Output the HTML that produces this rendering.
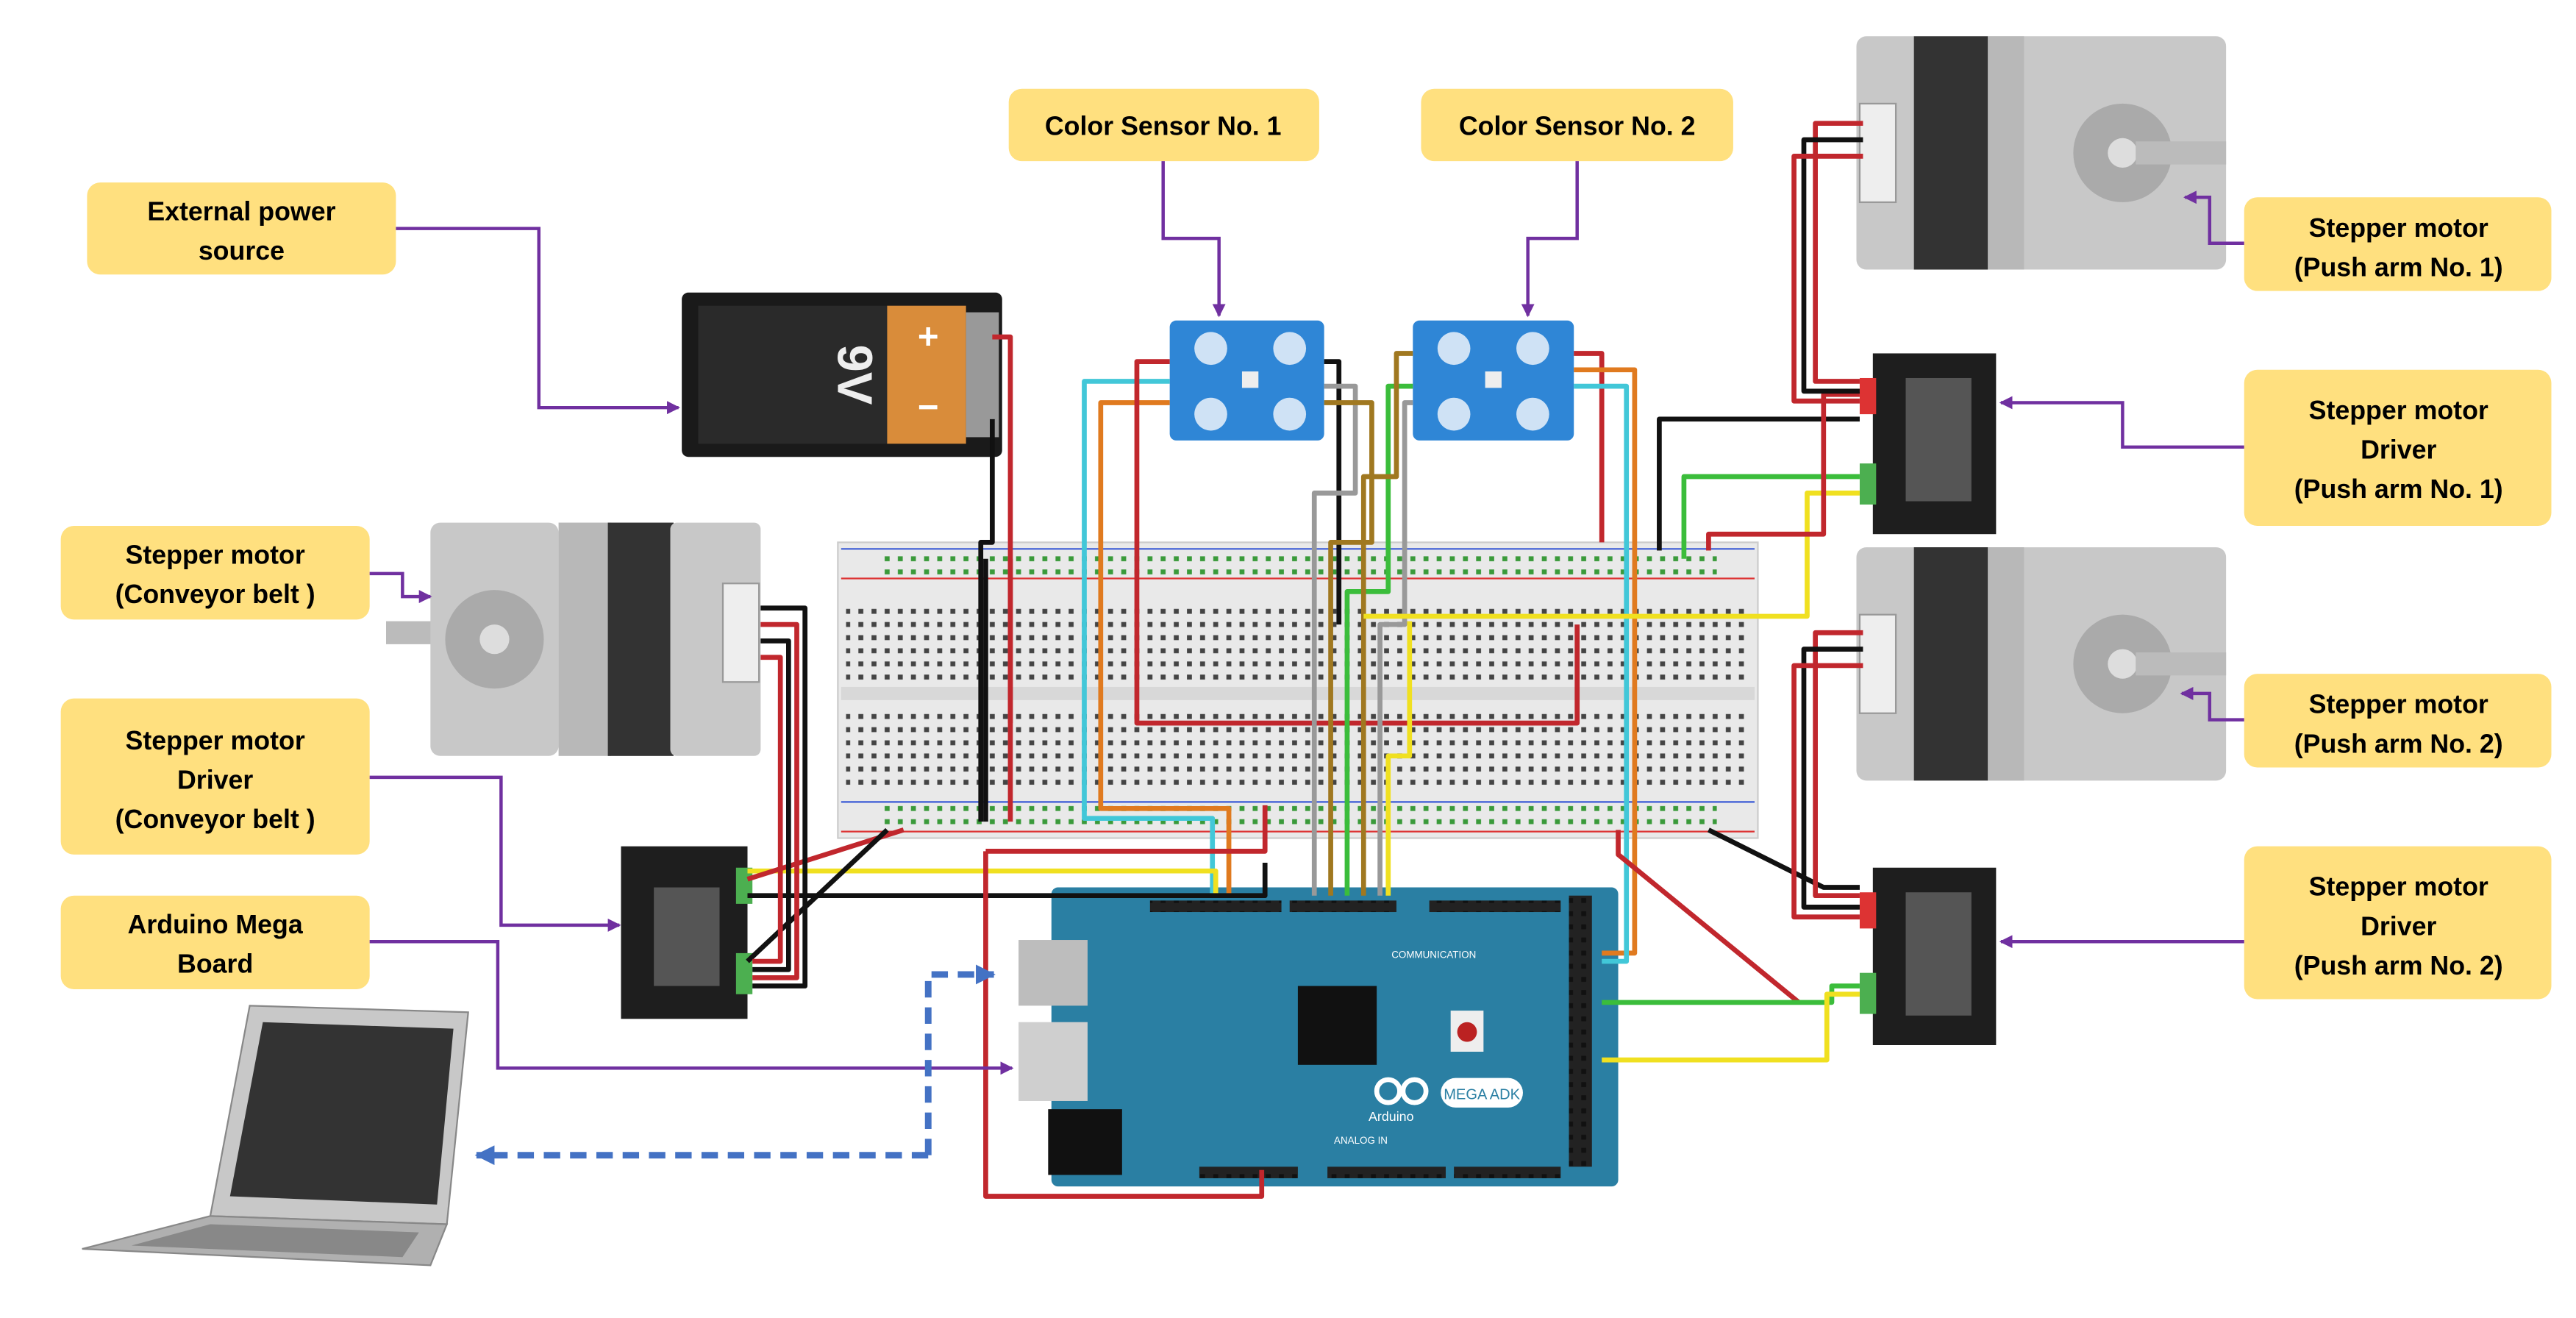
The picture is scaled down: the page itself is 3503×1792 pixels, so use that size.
<!DOCTYPE html>
<html><head><meta charset="utf-8"><style>
html,body{margin:0;padding:0;background:#fff;}
svg{display:block}
text{font-family:"Liberation Sans",sans-serif;}
.lbl{fill:#000;font-weight:bold;font-size:16px;text-anchor:middle}
</style></head><body>
<svg width="3503" height="1792" viewBox="0 0 1568 802" xmlns="http://www.w3.org/2000/svg">
<defs>
<marker id="pa" markerWidth="8" markerHeight="8" refX="7" refY="4" orient="auto" markerUnits="userSpaceOnUse"><path d="M0,0 L8,4 L0,8 z" fill="#7030A0"/></marker>
<marker id="ba" markerWidth="12" markerHeight="12" refX="11" refY="6" orient="auto" markerUnits="userSpaceOnUse"><path d="M0,0 L12,6 L0,12 z" fill="#4472C4"/></marker>
<pattern id="holes" width="8" height="8" patternUnits="userSpaceOnUse"><rect x="2.5" y="2.5" width="3" height="3" fill="#444"/></pattern>
<pattern id="ghole" width="8" height="8" patternUnits="userSpaceOnUse"><rect x="2.5" y="2.5" width="3" height="3" fill="#3a9a3a"/></pattern>
<pattern id="pins" width="8" height="8" patternUnits="userSpaceOnUse"><rect width="8" height="8" fill="#222"/><rect x="2.5" y="2.5" width="3" height="3" fill="#111"/></pattern>
</defs>

<g>
<rect x="53" y="111" width="188" height="56" rx="8" fill="#FFE07F"/>
<text class="lbl" x="147" y="134">External power</text><text class="lbl" x="147" y="158">source</text>
<rect x="614" y="54" width="189" height="44" rx="8" fill="#FFE07F"/>
<text class="lbl" x="708" y="82">Color Sensor No.  1</text>
<rect x="865" y="54" width="190" height="44" rx="8" fill="#FFE07F"/>
<text class="lbl" x="960" y="82">Color Sensor No.  2</text>
<rect x="37" y="320" width="188" height="57" rx="8" fill="#FFE07F"/>
<text class="lbl" x="131" y="343">Stepper motor</text><text class="lbl" x="131" y="367">(Conveyor belt )</text>
<rect x="37" y="425" width="188" height="95" rx="8" fill="#FFE07F"/>
<text class="lbl" x="131" y="456">Stepper motor</text><text class="lbl" x="131" y="480">Driver</text><text class="lbl" x="131" y="504">(Conveyor belt )</text>
<rect x="37" y="545" width="188" height="57" rx="8" fill="#FFE07F"/>
<text class="lbl" x="131" y="568">Arduino Mega</text><text class="lbl" x="131" y="592">Board</text>
<rect x="1366" y="120" width="187" height="57" rx="8" fill="#FFE07F"/>
<text class="lbl" x="1460" y="144">Stepper motor</text><text class="lbl" x="1460" y="168">(Push arm No. 1)</text>
<rect x="1366" y="225" width="187" height="95" rx="8" fill="#FFE07F"/>
<text class="lbl" x="1460" y="255">Stepper motor</text><text class="lbl" x="1460" y="279">Driver</text><text class="lbl" x="1460" y="303">(Push arm No. 1)</text>
<rect x="1366" y="410" width="187" height="57" rx="8" fill="#FFE07F"/>
<text class="lbl" x="1460" y="434">Stepper motor</text><text class="lbl" x="1460" y="458">(Push arm No. 2)</text>
<rect x="1366" y="515" width="187" height="93" rx="8" fill="#FFE07F"/>
<text class="lbl" x="1460" y="545">Stepper motor</text><text class="lbl" x="1460" y="569">Driver</text><text class="lbl" x="1460" y="593">(Push arm No. 2)</text>
</g>

<rect x="510" y="330" width="560" height="180" fill="#e9e9e9" stroke="#ccc"/>
<line x1="512" y1="334" x2="1068" y2="334" stroke="#3b5bd6" stroke-width="1"/>
<line x1="512" y1="352" x2="1068" y2="352" stroke="#d33" stroke-width="1"/>
<line x1="512" y1="488" x2="1068" y2="488" stroke="#3b5bd6" stroke-width="1"/>
<line x1="512" y1="506" x2="1068" y2="506" stroke="#d33" stroke-width="1"/>
<rect x="535" y="335" width="510" height="16" fill="url(#ghole)"/>
<rect x="535" y="490" width="510" height="16" fill="url(#ghole)"/>
<rect x="515" y="366" width="550" height="48" fill="url(#holes)"/>
<rect x="515" y="430" width="550" height="48" fill="url(#holes)"/>
<rect x="512" y="418" width="556" height="8" fill="#d8d8d8"/>

<rect x="415" y="178" width="195" height="100" rx="4" fill="#1a1a1a"/>
<rect x="425" y="186" width="115" height="84" fill="#2a2a2a"/>
<rect x="540" y="186" width="48" height="84" fill="#d98c3a"/>
<rect x="588" y="190" width="20" height="76" fill="#999"/>
<text x="565" y="212" font-size="22" fill="#fff" font-weight="bold" text-anchor="middle">+</text>
<text x="565" y="255" font-size="22" fill="#fff" font-weight="bold" text-anchor="middle">−</text>
<text x="510" y="228" font-size="30" fill="#eee" font-weight="bold" text-anchor="middle" transform="rotate(90 510 228)">9V</text>

<g>
<rect x="712" y="195" width="94" height="73" rx="4" fill="#2f86d6"/>
<circle cx="737" cy="212" r="10" fill="#cfe2f5"/><circle cx="785" cy="212" r="10" fill="#cfe2f5"/>
<circle cx="737" cy="252" r="10" fill="#cfe2f5"/><circle cx="785" cy="252" r="10" fill="#cfe2f5"/>
<rect x="756" y="226" width="10" height="10" fill="#eee"/>
<rect x="860" y="195" width="98" height="73" rx="4" fill="#2f86d6"/>
<circle cx="885" cy="212" r="10" fill="#cfe2f5"/><circle cx="933" cy="212" r="10" fill="#cfe2f5"/>
<circle cx="885" cy="252" r="10" fill="#cfe2f5"/><circle cx="933" cy="252" r="10" fill="#cfe2f5"/>
<rect x="904" y="226" width="10" height="10" fill="#eee"/>
</g>

<g>
<rect x="235" y="378" width="32" height="14" fill="#bbb"/>
<rect x="262" y="318" width="78" height="142" rx="6" fill="#c8c8c8"/>
<circle cx="301" cy="389" r="30" fill="#aaa"/>
<circle cx="301" cy="389" r="9" fill="#ddd"/>
<rect x="340" y="318" width="32" height="142" fill="#b8b8b8"/>
<rect x="370" y="318" width="40" height="142" fill="#333"/>
<rect x="408" y="318" width="55" height="142" rx="4" fill="#c8c8c8"/>
<rect x="440" y="355" width="22" height="60" fill="#eee" stroke="#999"/>
</g>
<g>
<rect x="1130" y="22" width="225" height="142" rx="6" fill="#c8c8c8"/>
<rect x="1165" y="22" width="45" height="142" fill="#333"/>
<rect x="1210" y="22" width="22" height="142" fill="#b8b8b8"/>
<circle cx="1292" cy="93" r="30" fill="#aaa"/><circle cx="1292" cy="93" r="9" fill="#ddd"/>
<rect x="1300" y="86" width="55" height="14" fill="#bbb"/>
<rect x="1132" y="63" width="22" height="60" fill="#eee" stroke="#999"/>
<rect x="1130" y="333" width="225" height="142" rx="6" fill="#c8c8c8"/>
<rect x="1165" y="333" width="45" height="142" fill="#333"/>
<rect x="1210" y="333" width="22" height="142" fill="#b8b8b8"/>
<circle cx="1292" cy="404" r="30" fill="#aaa"/><circle cx="1292" cy="404" r="9" fill="#ddd"/>
<rect x="1300" y="397" width="55" height="14" fill="#bbb"/>
<rect x="1132" y="374" width="22" height="60" fill="#eee" stroke="#999"/>
</g>

<g>
<rect x="378" y="515" width="77" height="105" fill="#1e1e1e"/>
<rect x="398" y="540" width="40" height="60" fill="#555"/>
<rect x="448" y="528" width="10" height="22" fill="#4caf50"/><rect x="448" y="580" width="10" height="25" fill="#4caf50"/>
<rect x="1140" y="215" width="75" height="110" fill="#1e1e1e"/>
<rect x="1160" y="230" width="40" height="75" fill="#555"/>
<rect x="1132" y="230" width="10" height="22" fill="#d33"/><rect x="1132" y="282" width="10" height="25" fill="#4caf50"/>
<rect x="1140" y="528" width="75" height="108" fill="#1e1e1e"/>
<rect x="1160" y="543" width="40" height="75" fill="#555"/>
<rect x="1132" y="543" width="10" height="22" fill="#d33"/><rect x="1132" y="592" width="10" height="25" fill="#4caf50"/>
</g>

<g>
<rect x="640" y="540" width="345" height="182" rx="4" fill="#2a7fa3"/>
<rect x="620" y="572" width="42" height="40" fill="#bdbdbd"/>
<rect x="620" y="622" width="42" height="48" fill="#cfcfcf"/>
<rect x="638" y="675" width="45" height="40" fill="#111"/>
<rect x="790" y="600" width="48" height="48" fill="#111"/>
<rect x="700" y="548" width="80" height="7" fill="url(#pins)"/>
<rect x="785" y="548" width="65" height="7" fill="url(#pins)"/>
<rect x="870" y="548" width="80" height="7" fill="url(#pins)"/>
<rect x="955" y="545" width="14" height="165" fill="url(#pins)"/>
<rect x="730" y="710" width="60" height="7" fill="url(#pins)"/>
<rect x="808" y="710" width="72" height="7" fill="url(#pins)"/>
<rect x="885" y="710" width="65" height="7" fill="url(#pins)"/>
<rect x="883" y="615" width="20" height="25" fill="#eee"/><circle cx="893" cy="628" r="6" fill="#b22"/>
<circle cx="845" cy="664" r="7" fill="none" stroke="#fff" stroke-width="3"/><circle cx="861" cy="664" r="7" fill="none" stroke="#fff" stroke-width="3"/>
<text x="833" y="682" font-size="8" fill="#fff">Arduino</text>
<rect x="877" y="656" width="50" height="18" rx="9" fill="#fff"/>
<text x="902" y="669" font-size="9" fill="#2a7fa3" text-anchor="middle">MEGA ADK</text>
<text x="847" y="583" font-size="6" fill="#fff">COMMUNICATION</text>
<text x="812" y="696" font-size="6" fill="#fff">ANALOG IN</text>
</g>

<g>
<polygon points="152,612 285,616 272,745 128,740" fill="#c8c8c8" stroke="#888"/>
<polygon points="160,622 276,626 266,733 140,728" fill="#333"/>
<polygon points="128,740 272,745 262,770 50,760" fill="#b0b0b0" stroke="#888"/>
<polygon points="128,745 255,750 245,765 80,758" fill="#888"/>
</g>

<g fill="none" stroke-width="3" stroke-linejoin="round">
<path d="M604,205 H615 V440" stroke="#c1272d"/>
<path d="M604,255 H604 V330 H597 V500" stroke="#111"/>
<path d="M600,340 V500" stroke="#111"/>
<path d="M615,340 V500" stroke="#c1272d"/>
<path d="M712,232 H660 V498 H738 V545" stroke="#42c7d8"/>
<path d="M712,245 H670 V492 H748 V545" stroke="#e07a1f"/>
<path d="M712,220 H692 V440 H960 V380" stroke="#c1272d"/>
<path d="M806,220 H815 V380" stroke="#111"/>
<path d="M806,235 H825 V300 H800 V545" stroke="#999"/>
<path d="M806,245 H835 V330 H810 V545" stroke="#a07820"/>
<path d="M860,235 H845 V360 H820 V545" stroke="#3bbd3b"/>
<path d="M860,215 H850 V290 H830 V545" stroke="#a07820"/>
<path d="M860,245 H855 V380 H840 V545" stroke="#999"/>
<path d="M958,215 H975 V330" stroke="#c1272d"/>
<path d="M958,225 H995 V580 H975" stroke="#e07a1f"/>
<path d="M958,235 H990 V585 H975" stroke="#42c7d8"/>
<path d="M830,375 H1100 V300 H1132" stroke="#f0e020"/>
<path d="M858,378 V460 H845 V545" stroke="#f0e020"/>
<path d="M985,505 V520 L1095,610" stroke="#c1272d"/>
<path d="M1010,335 V255 H1132" stroke="#111"/>
<path d="M1025,340 V290 H1132" stroke="#3bbd3b"/>
<path d="M1040,335 V325 H1110 V240 H1132" stroke="#c1272d"/>
<path d="M975,610 H1115 V600 H1132" stroke="#3bbd3b"/>
<path d="M975,645 H1112 V605 H1132" stroke="#f0e020"/>
<path d="M1040,505 L1110,540 H1132" stroke="#111"/>
<path d="M455,530 H740 V545" stroke="#f0e020"/>
<path d="M455,545 H770 V525" stroke="#111"/>
<path d="M455,535 L550,505" stroke="#c1272d"/>
<path d="M455,585 L540,505" stroke="#111"/>
<path d="M600,518 V728 H768 V712" stroke="#c1272d"/>
<path d="M600,518 H770 V490" stroke="#c1272d"/>
<path d="M463,370 H490 V600 H458" stroke="#111"/>
<path d="M463,380 H485 V595 H458" stroke="#c1272d"/>
<path d="M463,390 H480 V590 H458" stroke="#111"/>
<path d="M463,400 H475 V585 H458" stroke="#c1272d"/>
<path d="M1134,75 H1105 V232 H1132" stroke="#c1272d"/>
<path d="M1134,85 H1098 V238 H1132" stroke="#111"/>
<path d="M1134,95 H1092 V244 H1132" stroke="#c1272d"/>
<path d="M1134,385 H1105 V545 H1132" stroke="#c1272d"/>
<path d="M1134,395 H1098 V552 H1132" stroke="#111"/>
<path d="M1134,405 H1092 V558 H1132" stroke="#c1272d"/>
</g>

<g fill="none" stroke="#7030A0" stroke-width="2" marker-end="url(#pa)">
<path d="M241,139 H328 V248 H413"/>
<path d="M708,98 V145 H742 V192"/>
<path d="M960,98 V145 H930 V192"/>
<path d="M225,349 H245 V363 H262"/>
<path d="M225,473 H305 V563 H377"/>
<path d="M225,573 H303 V650 H616"/>
<path d="M1366,148 H1345 V120 H1330"/>
<path d="M1366,272 H1292 V245 H1218"/>
<path d="M1366,438 H1345 V422 H1328"/>
<path d="M1366,573 H1218"/>
</g>
<path d="M565,703 V593 H605" fill="none" stroke="#4472C4" stroke-width="4" stroke-dasharray="10,6" marker-end="url(#ba)"/>
<path d="M565,703 H290" fill="none" stroke="#4472C4" stroke-width="4" stroke-dasharray="10,6" marker-end="url(#ba)"/>
</svg>
</body></html>
